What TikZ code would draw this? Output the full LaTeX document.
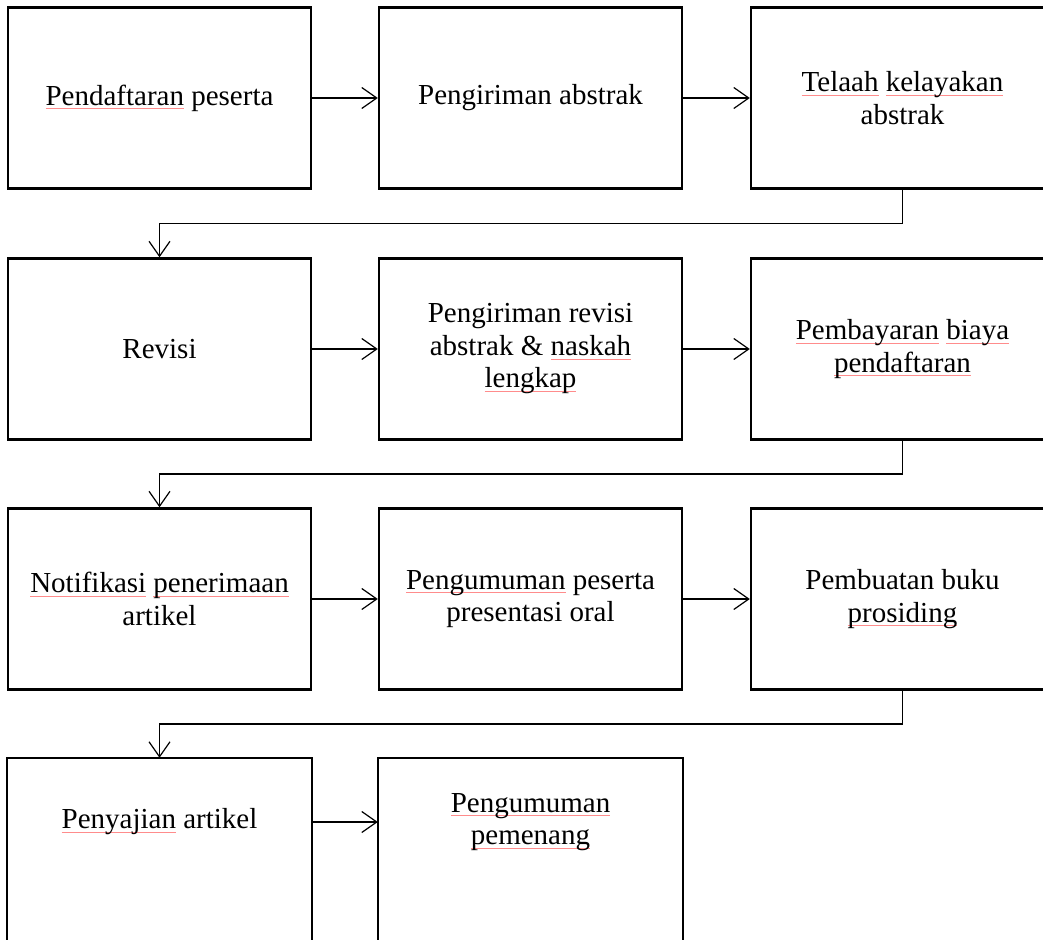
\documentclass[tikz,border=0pt]{standalone}
\usepackage{fontspec}
\setmainfont{Liberation Serif}
\usetikzlibrary{arrows.meta,calc}
\newcommand\spl[1]{\setbox0\hbox{#1}\rlap{\textcolor{red!45}{\rule[-4pt]{\wd0}{0.8pt}}}\box0\relax}
\tikzset{
  boxln/.style={line width=2.4pt},
  stepbox/.style={draw, boxln, minimum width=303pt, minimum height=181pt, inner sep=0pt, align=center,
     font=\fontsize{29}{32.5}\selectfont},
  openbox/.style={stepbox, draw=none, minimum height=126pt},
  conn/.style={line width=1.2pt, -{Straight Barb[length=15pt,width=21pt,line width=1.2pt]}},
}
\begin{document}
\begin{tikzpicture}[x=1pt,y=-1pt]
\useasboundingbox (0,0) rectangle (1043,939);
% row 1
\node[stepbox] (b1) at (159.5,98) {\spl{Pendaftaran} peserta};
\node[stepbox] (b2) at (530.5,98) {Pengiriman abstrak};
\node[stepbox] (b3) at (902.5,98) {\spl{Telaah} \spl{kelayakan}\\abstrak};
% row 2
\node[stepbox] (b4) at (159.5,349) {Revisi};
\node[stepbox] (b5) at (530.5,349) {Pengiriman revisi\\abstrak \& \spl{naskah}\\\spl{lengkap}};
\node[stepbox] (b6) at (902.5,349) {\spl{Pembayaran} \spl{biaya}\\\spl{pendaftaran}};
% row 3
\node[stepbox] (b7) at (159.5,599) {\spl{Notifikasi} \spl{penerimaan}\\artikel};
\node[stepbox] (b8) at (530.5,599) {\spl{Pengumuman} peserta\\presentasi oral};
\node[stepbox] (b9) at (902.5,599) {Pembuatan buku\\\spl{prosiding}};
% row 4 (cut off at the bottom)
\node[openbox] (b10) at (159.5,822) {\spl{Penyajian} artikel};
\node[openbox] (b11) at (530.5,822) {\spl{Pengumuman}\\\spl{pemenang}};
\draw[boxln] ([yshift=-90pt]b10.south west) -- (b10.north west) -- (b10.north east) -- ([yshift=-90pt]b10.south east);
\draw[boxln] ([yshift=-90pt]b11.south west) -- (b11.north west) -- (b11.north east) -- ([yshift=-90pt]b11.south east);
% horizontal arrows
\draw[conn] (b1) -- (b2);
\draw[conn] (b2) -- (b3);
\draw[conn] (b4) -- (b5);
\draw[conn] (b5) -- (b6);
\draw[conn] (b7) -- (b8);
\draw[conn] (b8) -- (b9);
\draw[conn] (b10) -- (b11);
% elbow connectors
\coordinate (m1) at (0,223.5);
\coordinate (m2) at (0,474);
\coordinate (m3) at (0,724);
\draw[conn] (b3.south) -- (b3.south |- m1) -| (b4.north);
\draw[conn] (b6.south) -- (b6.south |- m2) -| (b7.north);
\draw[conn] (b9.south) -- (b9.south |- m3) -| (b10.north);
\end{tikzpicture}
\end{document}
